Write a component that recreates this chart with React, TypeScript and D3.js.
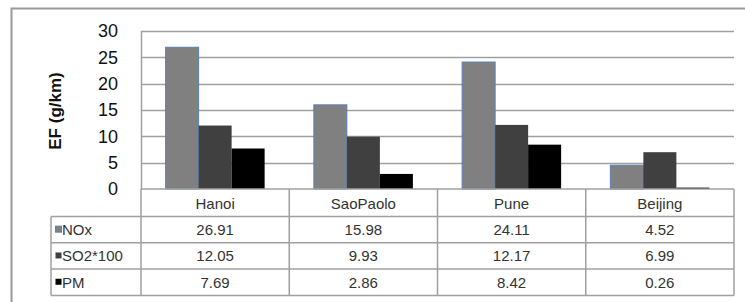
import React, { useEffect, useRef } from "react";
import * as d3 from "d3";

const cities = ["Hanoi", "SaoPaolo", "Pune", "Beijing"];
const seriesNames = ["NOx", "SO2*100", "PM"];
const noxValues = [26.91, 15.98, 24.11, 4.52];
const so2Values = [12.05, 9.93, 12.17, 6.99];
const pmValues = [7.69, 2.86, 8.42, 0.26];
const yTicks = [0, 5, 10, 15, 20, 25, 30];

const colors = ["#808080", "#404040", "#000000"];

const drawChart = (ref: SVGSVGElement) => {
    const svg = d3.select(ref);
    svg.selectAll("*").remove();
    const font = "'Liberation Sans', Arial, sans-serif";

    const values = [noxValues, so2Values, pmValues];
    const left = 141;
    const right = 734;
    const top = 31;
    const bottom = 189;
    const legendLeft = 51;
    const headerBottom = 216.5;
    const rowH = 26.3;

    svg.append("rect").attr("width", 745).attr("height", 302).attr("fill", "#fff");

    // outer frame (continues past right and bottom)
    svg.append("path")
        .attr("d", "M11.5,310 L11.5,8.5 L760,8.5")
        .attr("fill", "none")
        .attr("stroke", "#9a9a9a")
        .attr("stroke-width", 2);

    const y = d3.scaleLinear().domain([0, 30]).range([bottom, top]);
    const x0 = d3.scaleBand().domain(cities).range([left, right]);
    const x1 = d3.scaleBand().domain(seriesNames).range([0, x0.bandwidth()]).paddingOuter(0.746);

    // grid
    svg.append("g")
        .selectAll("line")
        .data(yTicks.filter((t) => t > 0))
        .enter()
        .append("line")
        .attr("x1", left)
        .attr("x2", right)
        .attr("y1", (d) => Math.round(y(d)) + 0.5)
        .attr("y2", (d) => Math.round(y(d)) + 0.5)
        .attr("stroke", "#a0a0a0")
        .attr("stroke-width", 1.5);

    svg.append("line")
        .attr("x1", left + 0.5)
        .attr("x2", left + 0.5)
        .attr("y1", top)
        .attr("y2", bottom)
        .attr("stroke", "#a0a0a0")
        .attr("stroke-width", 1.5);

    // y tick labels
    svg.append("g")
        .selectAll("text")
        .data(yTicks)
        .enter()
        .append("text")
        .attr("x", 118)
        .attr("y", (d) => y(d))
        .attr("dy", "0.36em")
        .attr("text-anchor", "end")
        .style("font-family", font)
        .style("font-size", "18px")
        .attr("fill", "#111")
        .text((d) => d);

    // y title
    svg.append("text")
        .attr("transform", `translate(61,111) rotate(-90)`)
        .attr("text-anchor", "middle")
        .style("font-family", font)
        .style("font-size", "17px")
        .style("font-weight", "bold")
        .attr("fill", "#111")
        .text("EF (g/km)");

    // bars
    svg.append("g")
        .selectAll("g")
        .data(cities)
        .enter()
        .append("g")
        .attr("transform", (c) => `translate(${x0(c)},0)`)
        .selectAll("rect")
        .data((c) => seriesNames.map((s, si) => ({ s, si, v: values[si][cities.indexOf(c)] })))
        .enter()
        .append("rect")
        .attr("x", (d) => x1(d.s)!)
        .attr("y", (d) => y(d.v))
        .attr("width", x1.bandwidth())
        .attr("height", (d) => y(0) - y(d.v))
        .attr("fill", (d) => colors[d.si])
        .attr("stroke", (d) => (d.si === 0 ? "#5b7fb8" : "none"))
        .attr("stroke-width", 1);

    // table
    const tableBottom = headerBottom + rowH * 3;
    const tg = svg.append("g").attr("stroke", "#a0a0a0").attr("stroke-width", 1.5).attr("fill", "none");
    tg.append("line").attr("x1", left).attr("x2", right).attr("y1", bottom).attr("y2", bottom);
    [0, 1, 2, 3].forEach((i) => {
        const yy = headerBottom + rowH * i;
        tg.append("line").attr("x1", legendLeft).attr("x2", right).attr("y1", yy).attr("y2", yy);
    });
    tg.append("line").attr("x1", legendLeft).attr("x2", legendLeft).attr("y1", headerBottom).attr("y2", tableBottom);
    cities.forEach((c) => {
        tg.append("line")
            .attr("x1", x0(c)!)
            .attr("x2", x0(c)!)
            .attr("y1", bottom)
            .attr("y2", tableBottom);
    });
    tg.append("line").attr("x1", right).attr("x2", right).attr("y1", bottom).attr("y2", tableBottom);

    // header labels
    svg.append("g")
        .selectAll("text")
        .data(cities)
        .enter()
        .append("text")
        .attr("x", (c) => x0(c)! + x0.bandwidth() / 2)
        .attr("y", (bottom + headerBottom) / 2 + 1)
        .attr("dy", "0.36em")
        .attr("text-anchor", "middle")
        .style("font-family", font)
        .style("font-size", "15px")
        .attr("fill", "#333")
        .text((c) => c);

    seriesNames.forEach((s, si) => {
        const cy = headerBottom + rowH * si + rowH / 2;
        svg.append("rect")
            .attr("x", 55.5)
            .attr("y", cy - 3.5)
            .attr("width", 6)
            .attr("height", 6)
            .attr("fill", colors[si])
            .attr("stroke", si === 0 ? "#5b7fb8" : "none");
        svg.append("text")
            .attr("x", 62)
            .attr("y", cy)
            .attr("dy", "0.36em")
            .style("font-family", font)
            .style("font-size", "15px")
            .attr("fill", "#333")
            .text(s);
        svg.append("g")
            .selectAll("text")
            .data(cities)
            .enter()
            .append("text")
            .attr("x", (c) => x0(c)! + x0.bandwidth() / 2)
            .attr("y", cy)
            .attr("dy", "0.36em")
            .attr("text-anchor", "middle")
            .style("font-family", font)
            .style("font-size", "15px")
            .attr("fill", "#333")
            .text((c, ci) => values[si][ci].toFixed(2));
    });
};

export default function App() {
    const svgRef = useRef<SVGSVGElement>(null);
    useEffect(() => {
        if (svgRef.current) drawChart(svgRef.current);
    }, []);
    return (
        <svg
            ref={svgRef}
            width={745}
            height={302}
            style={{ position: "absolute", left: 0, top: 0, display: "block" }}
        />
    );
}
